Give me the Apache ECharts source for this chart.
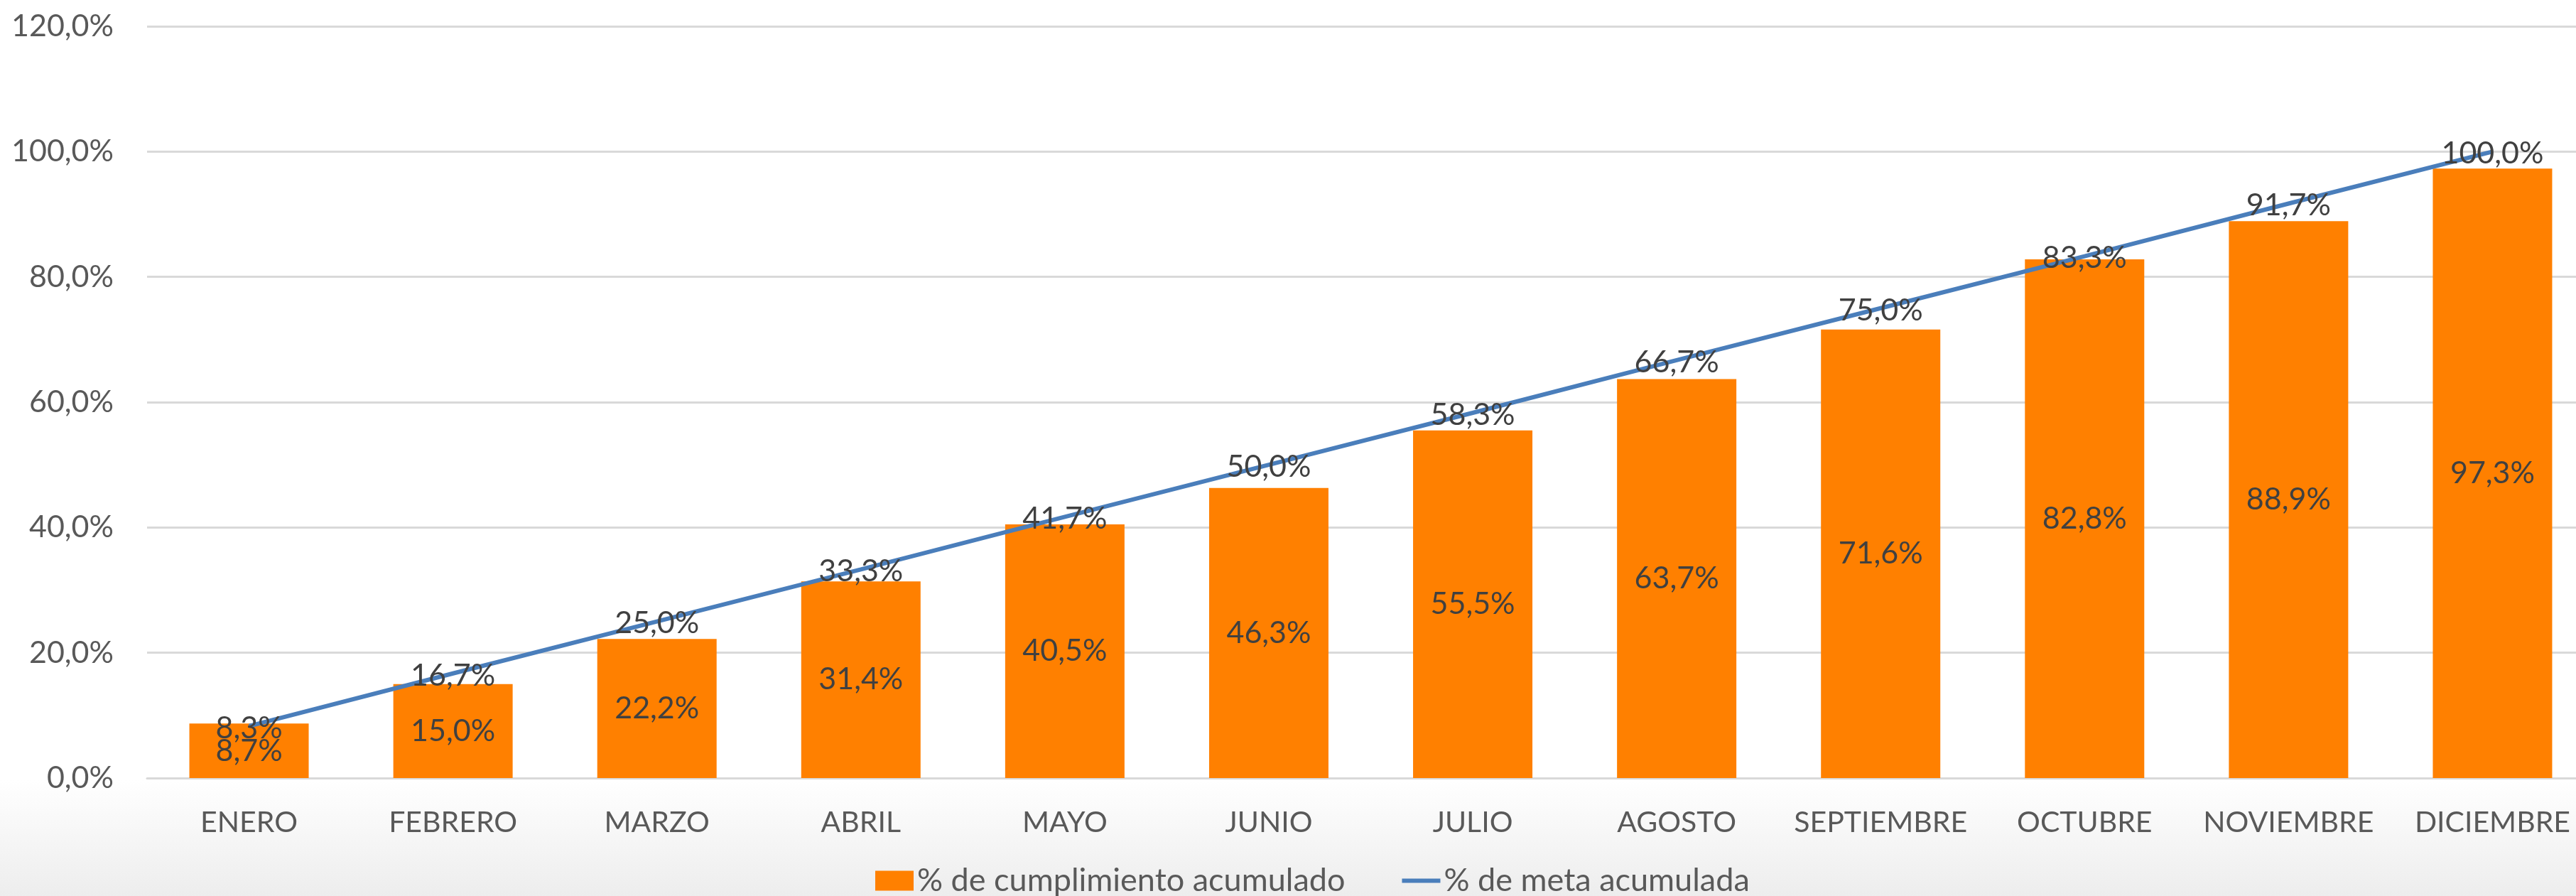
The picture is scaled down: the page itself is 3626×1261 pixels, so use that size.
<!DOCTYPE html>
<html>
<head>
<meta charset="utf-8">
<script src="https://cdn.jsdelivr.net/npm/echarts@6/dist/echarts.min.js"></script>
<style>
    html, body {margin: 0; padding: 0;}
    #chart {width: 3626px; height: 1261px;}
</style>
</head>
<body>
<div id="chart"></div>
<script>
const months = ["ENERO", "FEBRERO", "MARZO", "ABRIL", "MAYO", "JUNIO", "JULIO",
    "AGOSTO", "SEPTIEMBRE", "OCTUBRE", "NOVIEMBRE", "DICIEMBRE"];
// % de cumplimiento acumulado
const cumplimiento = [8.7, 15.0, 22.2, 31.4, 40.5, 46.3, 55.5, 63.7, 71.6, 82.8, 88.9, 97.3];
// % de meta acumulada
const meta = [8.3, 16.7, 25.0, 33.3, 41.7, 50.0, 58.3, 66.7, 75.0, 83.3, 91.7, 100.0];
const yTicks = [0, 20, 40, 60, 80, 100, 120];

const font = "Lato, sans-serif";
const pct = (v) => v.toFixed(1).replace(".", ",") + "%";

let myChart = echarts.init(document.getElementById("chart"));

let option = {
    animation: false,
    backgroundColor: new echarts.graphic.LinearGradient(0, 0, 0, 1, [
        {offset: 0, color: "#ffffff"},
        {offset: 0.87, color: "#ffffff"},
        {offset: 1, color: "#ededed"},
    ]),
    textStyle: {fontFamily: font},
    grid: {
        left: 207,
        right: -26,
        top: 37,
        bottom: 166,
        outerBoundsMode: "none",
    },
    legend: {
        left: 1227,
        top: 1212,
        itemWidth: 54,
        itemHeight: 28,
        itemGap: 80,
        textStyle: {
            fontSize: 45,
            color: "#595959",
            fontFamily: font,
        },
        data: [
            {name: "% de cumplimiento acumulado", icon: "rect"},
            {name: "% de meta acumulada", icon: "path://M0,0 L56,0 L56,6 L0,6 Z"},
        ],
    },
    xAxis: {
        type: "category",
        data: months,
        axisLine: {
            lineStyle: {color: "#d9d9d9", width: 3},
        },
        axisTick: {show: false},
        axisLabel: {
            interval: 0,
            margin: 42,
            fontSize: 41,
            color: "#595959",
            fontFamily: font,
        },
    },
    yAxis: {
        type: "value",
        min: yTicks[0],
        max: yTicks[yTicks.length - 1],
        interval: 20,
        axisLine: {show: false},
        axisTick: {show: false},
        splitLine: {
            lineStyle: {color: "#d9d9d9", width: 3},
        },
        axisLabel: {
            margin: 47,
            fontSize: 43,
            color: "#595959",
            fontFamily: font,
            formatter: (v) => pct(v),
        },
    },
    series: [
        {
            name: "% de cumplimiento acumulado",
            type: "bar",
            data: cumplimiento,
            barWidth: 168,
            itemStyle: {color: "#ff8000"},
            label: {
                show: true,
                position: "inside",
                fontSize: 43,
                color: "#404040",
                fontFamily: font,
                formatter: (p) => pct(p.value),
            },
        },
        {
            name: "% de meta acumulada",
            type: "line",
            data: meta,
            symbol: "circle",
            symbolSize: 1,
            itemStyle: {color: "#4a7ebb"},
            lineStyle: {color: "#4a7ebb", width: 6},
            label: {
                show: true,
                position: "inside",
                offset: [0, 3],
                fontSize: 43,
                color: "#404040",
                fontFamily: font,
                formatter: (p) => pct(p.value),
            },
        },
    ],
};

option && myChart.setOption(option);
</script>
</body>
</html>
